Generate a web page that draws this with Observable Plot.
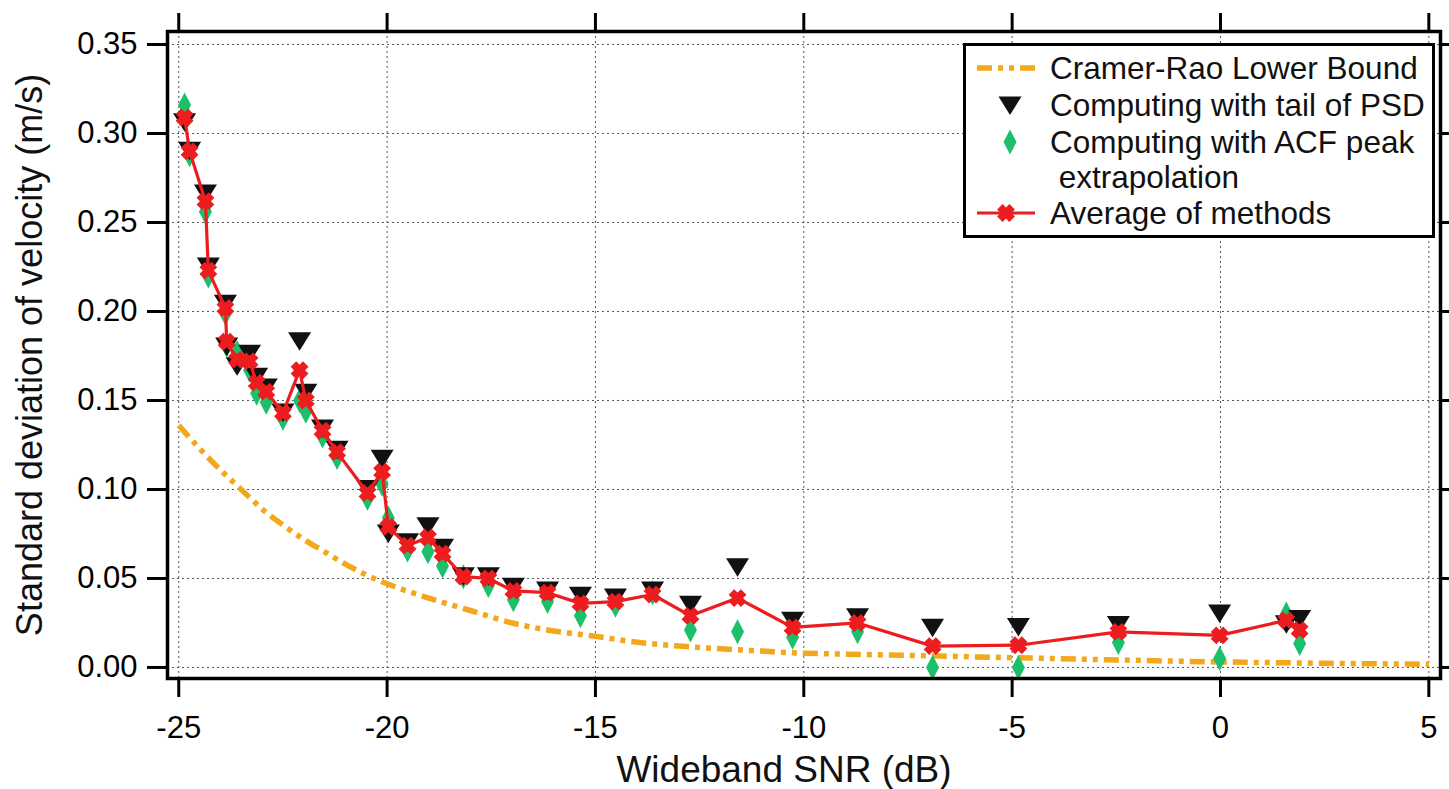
<!DOCTYPE html>
<html>
<head>
<meta charset="utf-8">
<script src="https://cdn.jsdelivr.net/npm/d3@7"></script>
<script src="https://cdn.jsdelivr.net/npm/@observablehq/plot@0.6"></script>
<style>
  html, body { margin: 0; padding: 0; background: #fff; }
  body { font-family: "Liberation Sans", Arial, sans-serif; }
  #wrap { position: relative; width: 1449px; height: 789px; overflow: hidden; }
  #legend { position: absolute; left: 963px; top: 43px; }
</style>
</head>
<body>
<div id="wrap"></div>
<script>
// ---------- data ----------
const snr = [-24.86,-24.74,-24.36,-24.29,-23.88,-23.85,-23.6,-23.3,-23.13,-22.9,-22.5,-22.1,-21.95,-21.55,-21.2,-20.47,-20.12,-19.97,-19.51,-19.02,-18.67,-18.17,-17.57,-16.97,-16.15,-15.36,-14.52,-13.63,-12.72,-11.59,-10.27,-8.71,-6.91,-4.85,-2.45,-0.02,1.58,1.9];
const psd = [0.306,0.290,0.266,0.225,0.204,0.180,0.169,0.176,0.163,0.157,0.143,0.183,0.154,0.134,0.122,0.100,0.117,0.075,0.070,0.079,0.067,0.051,0.051,0.045,0.043,0.040,0.039,0.043,0.035,0.056,0.026,0.028,0.022,0.0225,0.0236,0.030,0.024,0.027];
const acf = [0.316,0.288,0.256,0.220,0.199,0.181,0.177,0.167,0.154,0.149,0.140,0.150,0.144,0.130,0.118,0.095,0.103,0.084,0.066,0.065,0.057,0.051,0.046,0.038,0.037,0.029,0.035,0.042,0.021,0.020,0.017,0.020,0.000,0.000,0.014,0.005,0.030,0.0135];
const avg = [0.309,0.290,0.262,0.223,0.202,0.183,0.173,0.172,0.160,0.155,0.143,0.167,0.150,0.133,0.121,0.098,0.110,0.079,0.0685,0.073,0.064,0.051,0.050,0.043,0.042,0.036,0.037,0.041,0.029,0.039,0.0225,0.025,0.012,0.0125,0.020,0.018,0.0265,0.021];

const crlbSnr = [-25,-24.5,-24,-23.5,-23,-22.5,-22,-21.5,-21,-20.5,-20,-19,-18,-17,-16,-15,-14,-13,-12,-11,-10,-9,-8,-7,-6,-5,-4,-3,-2,-1,0,1,2,3,4,5];
const crlb = [0.136,0.123,0.111,0.100,0.089,0.080,0.072,0.065,0.058,0.052,0.047,0.039,0.032,0.025,0.0205,0.0175,0.0142,0.0120,0.0105,0.0092,0.0080,0.0075,0.0070,0.0066,0.0060,0.0055,0.0050,0.0045,0.0040,0.0035,0.0031,0.0028,0.0025,0.0022,0.0020,0.0018];

const xTicks = [-25,-20,-15,-10,-5,0,5];
const yTicks = [0,0.05,0.10,0.15,0.20,0.25,0.30,0.35];

const seriesNames = ["Cramer-Rao Lower Bound","Computing with tail of PSD","Computing with ACF peak"," extrapolation","Average of methods"];

// ---------- tables ----------
const points = snr.map((s, i) => ({snr: s, psd: psd[i], acf: acf[i], avg: avg[i]}));
const bound = crlbSnr.map((s, i) => ({snr: s, v: crlb[i]}));

// ---------- symbols ----------
const triDown = {draw(ctx) { ctx.moveTo(-11.5, -9.5); ctx.lineTo(11.5, -9.5); ctx.lineTo(0, 9); ctx.closePath(); }};
const diamondTall = {draw(ctx) { ctx.moveTo(0, -12.5); ctx.lineTo(6.5, 0); ctx.lineTo(0, 12.5); ctx.lineTo(-6.5, 0); ctx.closePath(); }};
const starX = {draw(ctx) {
  const w = 3.9, L = 8.7, c = Math.SQRT1_2;
  const pts = [[w,L],[w,w],[L,w],[L,-w],[w,-w],[w,-L],[-w,-L],[-w,-w],[-L,-w],[-L,w],[-w,w],[-w,L]];
  pts.forEach(([x, y], i) => { const X = (x - y) * c, Y = (x + y) * c; if (i) ctx.lineTo(X, Y); else ctx.moveTo(X, Y); });
  ctx.closePath();
}};

const ORANGE = "#f3a71a", GREEN = "#1cc06a", RED = "#ec1c1f", BLACK = "#111";
const DASH = "15,6,5,6,5,6";
const FONT = "'Liberation Sans', Arial, sans-serif";

const chart = Plot.plot({
  width: 1449,
  height: 789,
  marginLeft: 167,
  marginRight: 9,
  marginTop: 31,
  marginBottom: 111,
  style: {fontFamily: FONT, background: "#fff", color: "#000"},
  x: {domain: [-25.27, 5.28]},
  y: {domain: [-0.0062, 0.3573]},
  marks: [
    Plot.gridX(xTicks, {stroke: "#555", strokeOpacity: 1, strokeWidth: 1, strokeDasharray: "2,3"}),
    Plot.gridY(yTicks, {stroke: "#555", strokeOpacity: 1, strokeWidth: 1, strokeDasharray: "2,3"}),
    Plot.line(bound, {x: "snr", y: "v", stroke: ORANGE, strokeWidth: 5.5, strokeDasharray: DASH, strokeLinecap: "butt", curve: "monotone-x"}),
    Plot.dot(points, {x: "snr", y: "acf", symbol: diamondTall, fill: GREEN, stroke: "none", r: 6}),
    Plot.dot(points, {x: "snr", y: "psd", symbol: triDown, fill: BLACK, stroke: "none", r: 6}),
    Plot.line(points, {x: "snr", y: "avg", stroke: RED, strokeWidth: 3.2}),
    Plot.dot(points, {x: "snr", y: "avg", symbol: starX, fill: RED, stroke: "none", r: 6}),
    Plot.axisY(yTicks, {anchor: "left", tickSize: 20, tickPadding: 10, tickFormat: d3.format(".2f"), fontSize: 31, strokeWidth: 3, label: null}),
    Plot.axisY(yTicks, {anchor: "right", tickSize: 10, tickFormat: () => "", strokeWidth: 3, label: null}),
    Plot.axisX(xTicks, {anchor: "bottom", tickSize: 19, tickPadding: 18, tickFormat: d => String(d), fontSize: 31, strokeWidth: 3, label: null}),
    Plot.axisX(xTicks, {anchor: "top", tickSize: 19, tickFormat: () => "", strokeWidth: 3, label: null}),
    Plot.frame({stroke: "#000", strokeWidth: 3.5}),
    Plot.text(["Wideband SNR (dB)"], {frameAnchor: "bottom", textAnchor: "middle", dx: -20, dy: 92, fontSize: 37, lineAnchor: "middle", fill: "#111"}),
    Plot.text(["Standard deviation of velocity (m/s)"], {frameAnchor: "left", textAnchor: "middle", dx: -137, rotate: -90, fontSize: 36, lineAnchor: "middle", fill: "#111"})
  ]
});

const wrap = document.getElementById("wrap");
wrap.appendChild(chart);

// ---------- legend ----------
const lw = 472, lh = 195;
const leg = d3.create("svg").attr("id", "legend").attr("width", lw).attr("height", lh)
  .style("font-family", FONT);
leg.append("rect").attr("x", 1.5).attr("y", 1.5).attr("width", lw - 3).attr("height", lh - 3)
  .attr("fill", "#fff").attr("stroke", "#000").attr("stroke-width", 3);
const rowsY = [25, 62, 99, 134, 170];
seriesNames.forEach((t, i) => {
  leg.append("text").attr("x", 87).attr("y", rowsY[i]).attr("dy", "0.35em")
    .attr("font-size", 31.5).attr("fill", "#111").style("white-space", "pre").text(t);
});
// swatches
leg.append("line").attr("x1", 14).attr("x2", 72).attr("y1", rowsY[0]).attr("y2", rowsY[0])
  .attr("stroke", ORANGE).attr("stroke-width", 5.5).attr("stroke-dasharray", DASH);
leg.append("path").attr("transform", `translate(47,${rowsY[1] + 1})`).attr("fill", BLACK)
  .attr("d", d3.symbol(triDown)());
leg.append("path").attr("transform", `translate(47,${rowsY[2]})`).attr("fill", GREEN)
  .attr("d", d3.symbol(diamondTall)());
leg.append("line").attr("x1", 14).attr("x2", 72).attr("y1", rowsY[4]).attr("y2", rowsY[4])
  .attr("stroke", RED).attr("stroke-width", 3);
leg.append("path").attr("transform", `translate(43,${rowsY[4]})`).attr("fill", RED)
  .attr("d", d3.symbol(starX)());
wrap.appendChild(leg.node());
</script>
</body>
</html>
